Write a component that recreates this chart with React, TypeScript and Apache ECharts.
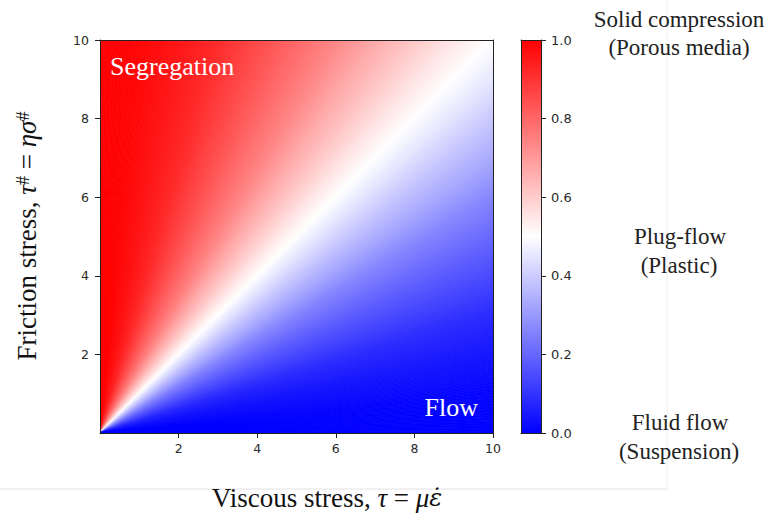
import React, { useEffect, useRef } from 'react';
import * as echarts from 'echarts';

// Axis extents and ticks
const axisMax = 10;
const tickValues = [2, 4, 6, 8, 10];
const colorbarTicks = [0, 0.2, 0.4, 0.6, 0.8, 1.0];

// Colour value read along the top edge (y = 10) at these x positions
const topEdgeX = [0, 1, 2, 3, 4, 5, 6, 7, 8, 9, 10];
const topEdgeValue = [1.0, 0.99, 0.96, 0.92, 0.86, 0.8, 0.74, 0.67, 0.61, 0.55, 0.5];
// Colour value read along the right edge (x = 10) at these y positions
const rightEdgeY = [9, 8, 7, 6, 5, 4, 3, 2, 1, 0];
const rightEdgeValue = [0.45, 0.39, 0.33, 0.26, 0.2, 0.14, 0.08, 0.04, 0.01, 0.0];

const serif = '"Liberation Serif", "DejaVu Serif", serif';
const sans = '"DejaVu Sans", sans-serif';

function bwr(v: number): string {
  const t = Math.max(0, Math.min(1, v));
  let r: number, g: number, b: number;
  if (t < 0.5) {
    r = g = Math.round(t * 2 * 255);
    b = 255;
  } else {
    r = 255;
    g = b = Math.round((2 - 2 * t) * 255);
  }
  return `rgb(${r},${g},${b})`;
}

export default function App() {
  const ref = useRef<HTMLDivElement>(null);
  useEffect(() => {
    const chart = echarts.init(ref.current!, null, { renderer: 'svg' });
    const boundary: number[][] = [
      ...topEdgeX.map((x, i) => [x, axisMax, topEdgeValue[i]]),
      ...rightEdgeY.map((y, i) => [axisMax, y, rightEdgeValue[i]]),
    ];

    const frameAxis = {
      show: true,
      min: 0,
      max: axisMax,
      z: 5,
      axisLine: { show: true, onZero: false, lineStyle: { color: '#222', width: 1 } },
      axisTick: { show: false },
      axisLabel: { show: false },
      splitLine: { show: false },
    };

    const option: any = {
      animation: false,
      backgroundColor: '#fff',
      grid: [
        { left: 100, top: 40, width: 393, height: 393 },
        { left: 521, top: 40, width: 20, height: 393 },
      ],
      xAxis: [
        {
          gridIndex: 0,
          type: 'value',
          min: 0,
          max: axisMax,
          position: 'bottom',
          z: 5,
          axisLine: { show: true, onZero: false, lineStyle: { color: '#222', width: 1 } },
          axisTick: { show: true, length: 5, customValues: tickValues, lineStyle: { color: '#222' } },
          axisLabel: { show: true, customValues: tickValues, margin: 9, color: '#2a2a2a', fontSize: 12.5, fontFamily: sans },
          splitLine: { show: false },
        },
        { ...frameAxis, gridIndex: 0, type: 'value', position: 'top' },
        { ...frameAxis, gridIndex: 1, type: 'value', min: 0, max: 1, position: 'bottom' },
        { ...frameAxis, gridIndex: 1, type: 'value', min: 0, max: 1, position: 'top' },
      ],
      yAxis: [
        {
          gridIndex: 0,
          type: 'value',
          min: 0,
          max: axisMax,
          position: 'left',
          z: 5,
          axisLine: { show: true, onZero: false, lineStyle: { color: '#222', width: 1 } },
          axisTick: { show: true, length: 5, customValues: tickValues, lineStyle: { color: '#222' } },
          axisLabel: { show: true, customValues: tickValues, margin: 11, color: '#2a2a2a', fontSize: 12.5, fontFamily: sans },
          splitLine: { show: false },
        },
        { ...frameAxis, gridIndex: 0, type: 'value', position: 'right' },
        { ...frameAxis, gridIndex: 1, type: 'value', min: 0, max: 1, position: 'left' },
        {
          gridIndex: 1,
          type: 'value',
          min: 0,
          max: 1,
          position: 'right',
          z: 5,
          axisLine: { show: true, onZero: false, lineStyle: { color: '#222', width: 1 } },
          axisTick: { show: true, length: 5, customValues: colorbarTicks, lineStyle: { color: '#222' } },
          axisLabel: {
            show: true,
            customValues: colorbarTicks,
            margin: 10,
            color: '#2a2a2a',
            fontSize: 13,
            fontFamily: sans,
            formatter: (v: number) => v.toFixed(1),
          },
          splitLine: { show: false },
        },
      ],
      series: [
        {
          type: 'custom',
          xAxisIndex: 0,
          yAxisIndex: 0,
          clip: true,
          z: 1,
          data: boundary,
          renderItem: (params: any, api: any) => {
            const i = params.dataIndex;
            if (i >= boundary.length - 1) return null;
            const x1 = api.value(0), y1 = api.value(1), v1 = api.value(2);
            const [x2, y2, v2] = boundary[i + 1];
            const o = api.coord([0, 0]);
            const p1 = api.coord([x1, y1]);
            const p2 = api.coord([x2, y2]);
            const K = 24;
            const children: any[] = [];
            for (let k = 0; k < K; k++) {
              const a = k / K;
              const b = (k + 1) / K;
              const q1 = [p1[0] + (p2[0] - p1[0]) * a, p1[1] + (p2[1] - p1[1]) * a];
              const q2 = [p1[0] + (p2[0] - p1[0]) * b, p1[1] + (p2[1] - p1[1]) * b];
              const c = bwr(v1 + (v2 - v1) * ((k + 0.5) / K));
              children.push({
                type: 'polygon',
                shape: { points: [o, q1, q2] },
                style: { fill: c, stroke: c, lineWidth: 0.8, lineJoin: 'round' },
              });
            }
            return { type: 'group', children };
          },
        },
        {
          type: 'custom',
          xAxisIndex: 2,
          yAxisIndex: 2,
          clip: true,
          z: 1,
          data: [[0, 1]],
          renderItem: (params: any, api: any) => {
            const lo = api.coord([0, api.value(0)]);
            const hi = api.coord([1, api.value(1)]);
            return {
              type: 'rect',
              shape: { x: lo[0], y: hi[1], width: hi[0] - lo[0], height: lo[1] - hi[1] },
              style: {
                fill: {
                  type: 'linear',
                  x: 0,
                  y: 0,
                  x2: 0,
                  y2: 1,
                  colorStops: [
                    { offset: 0, color: bwr(1) },
                    { offset: 0.5, color: bwr(0.5) },
                    { offset: 1, color: bwr(0) },
                  ],
                },
              },
            };
          },
        },
      ],
      graphic: [
        { type: 'line', shape: { x1: 0, y1: 489, x2: 667, y2: 489 }, style: { stroke: '#e2e2e2', lineWidth: 1 } },
        { type: 'line', shape: { x1: 667, y1: 0, x2: 667, y2: 489 }, style: { stroke: '#f0f0f0', lineWidth: 1 } },
        {
          type: 'text',
          x: 110,
          y: 66,
          z: 10,
          style: { text: 'Segregation', fill: '#fff', fontSize: 26, fontFamily: serif, align: 'left', verticalAlign: 'middle' },
        },
        {
          type: 'text',
          x: 478,
          y: 407,
          z: 10,
          style: { text: 'Flow', fill: '#fff', fontSize: 26, fontFamily: serif, align: 'right', verticalAlign: 'middle' },
        },
        {
          type: 'text',
          x: 327,
          y: 498,
          style: {
            text: 'Viscous stress, {m|τ} = {m|μ}{e|ε\u0307}',
            fill: '#111',
            fontSize: 27,
            fontFamily: serif,
            align: 'center',
            verticalAlign: 'middle',
            rich: {
              m: { fontStyle: 'italic', fontSize: 27, fontFamily: serif, fill: '#111' },
              e: { fontStyle: 'italic', fontSize: 24, fontFamily: '"DejaVu Serif", serif', fill: '#111' },
            },
          },
        },
        {
          type: 'text',
          x: 27,
          y: 236,
          rotation: Math.PI / 2,
          style: {
            text: 'Friction stress, {m|τ}{s|#} = {m|ησ}{s|#}',
            fill: '#111',
            fontSize: 27,
            fontFamily: serif,
            align: 'center',
            verticalAlign: 'middle',
            rich: {
              m: { fontStyle: 'italic', fontSize: 27, fontFamily: serif, fill: '#111' },
              s: { fontSize: 18, fontFamily: serif, fill: '#111', verticalAlign: 'top' },
            },
          },
        },
        { type: 'text', x: 679, y: 19, style: { text: 'Solid compression', fill: '#222', fontSize: 23, fontFamily: serif, align: 'center', verticalAlign: 'middle' } },
        { type: 'text', x: 679, y: 47, style: { text: '(Porous media)', fill: '#222', fontSize: 23, fontFamily: serif, align: 'center', verticalAlign: 'middle' } },
        { type: 'text', x: 680, y: 236, style: { text: 'Plug-flow', fill: '#222', fontSize: 23, fontFamily: serif, align: 'center', verticalAlign: 'middle' } },
        { type: 'text', x: 679, y: 265, style: { text: '(Plastic)', fill: '#222', fontSize: 23, fontFamily: serif, align: 'center', verticalAlign: 'middle' } },
        { type: 'text', x: 680, y: 422, style: { text: 'Fluid flow', fill: '#222', fontSize: 23, fontFamily: serif, align: 'center', verticalAlign: 'middle' } },
        { type: 'text', x: 679, y: 451, style: { text: '(Suspension)', fill: '#222', fontSize: 23, fontFamily: serif, align: 'center', verticalAlign: 'middle' } },
      ],
    };
    chart.setOption(option);
    return () => chart.dispose();
  }, []);
  return (
    <div
      ref={ref}
      style={{ position: 'fixed', left: 0, top: 0, width: 769, height: 513, background: '#fff' }}
    />
  );
}
